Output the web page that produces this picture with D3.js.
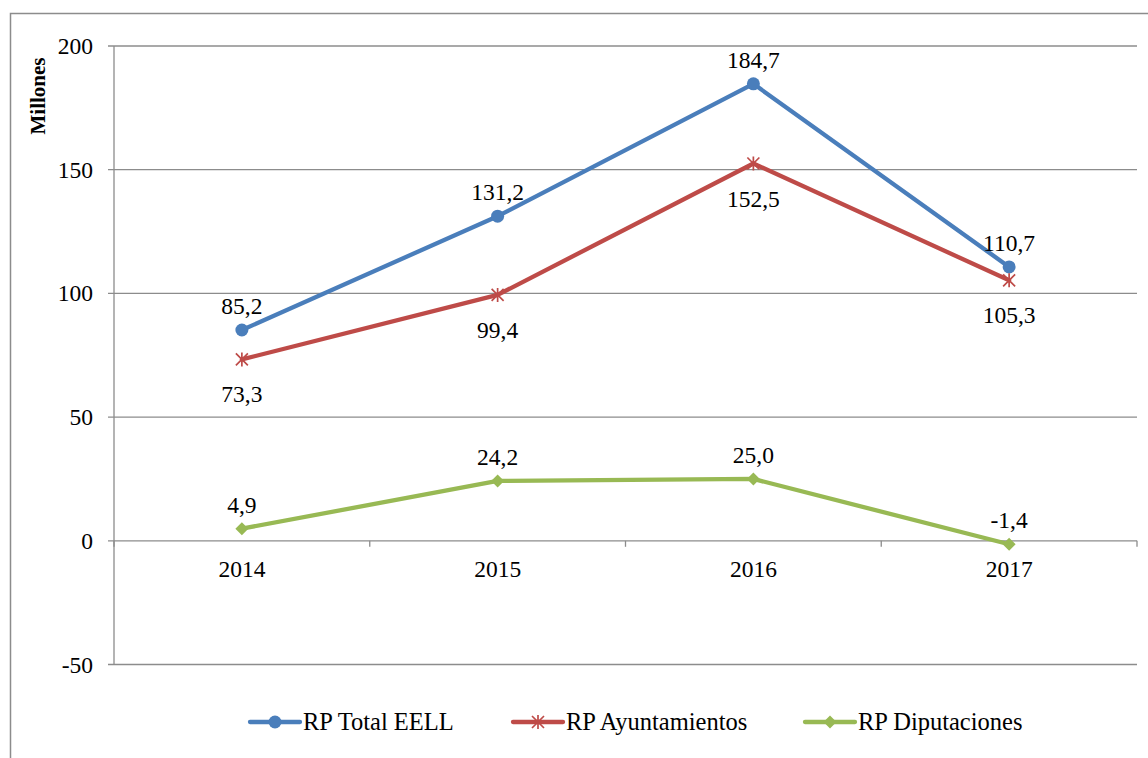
<!DOCTYPE html>
<html><head><meta charset="utf-8">
<script src="https://cdn.jsdelivr.net/npm/d3@7"></script>
<style>body{margin:0;background:#fff}svg{display:block}</style>
</head><body>
<svg id="c" width="1148" height="758"></svg>
<script>
const years = ["2014","2015","2016","2017"];
const total = [85.2,131.2,184.7,110.7];
const ayunt = [73.3,99.4,152.5,105.3];
const diput = [4.9,24.2,25.0,-1.4];
const yTicks = [-50,0,50,100,150,200];
const seriesNames = ["RP Total EELL","RP Ayuntamientos","RP Diputaciones"];

const FONT = "Liberation Serif";
const FS = 23.5;
const svg = d3.select("#c");
const M = {l:114,r:1137,t:46,b:664.5};
const x = d3.scaleBand().domain(years).range([M.l,M.r]);
const y = d3.scaleLinear().domain([-50,200]).range([M.b,M.t]);
const fmt = v => d3.format(".1f")(v).replace(".",",").replace("\u2212","-");

// outer frame
svg.append("rect").attr("x",10.5).attr("y",13.5).attr("width",1160).attr("height",800)
  .attr("fill","none").attr("stroke","#8c8c8c").attr("stroke-width",1.5);

// gridlines
svg.append("g").selectAll("line").data(yTicks).join("line")
  .attr("x1",M.l-6).attr("x2",M.r).attr("y1",d=>y(d)).attr("y2",d=>y(d))
  .attr("stroke","#8c8c8c").attr("stroke-width",1.3);
// y axis line
svg.append("line").attr("x1",M.l).attr("x2",M.l).attr("y1",M.t).attr("y2",M.b)
  .attr("stroke","#8c8c8c").attr("stroke-width",1.3);
// y labels
svg.append("g").selectAll("text").data(yTicks).join("text")
  .attr("font-family",FONT)
  .attr("x",93).attr("y",d=>y(d)+8).attr("text-anchor","end").attr("font-size",FS).text(d=>d);
// x ticks at category boundaries on 0 line
const bounds = years.map(d=>x(d)).concat([M.r]);
svg.append("g").selectAll("line").data(bounds).join("line")
  .attr("x1",d=>d).attr("x2",d=>d).attr("y1",y(0)).attr("y2",y(0)+6)
  .attr("stroke","#8c8c8c").attr("stroke-width",1.3);
svg.append("g").selectAll("text").data(years).join("text")
  .attr("font-family",FONT)
  .attr("x",d=>x(d)+x.bandwidth()/2).attr("y",y(0)+36).attr("text-anchor","middle")
  .attr("font-size",FS).text(d=>d);
// axis title
svg.append("text").attr("font-family",FONT).attr("transform",`translate(45,96) rotate(-90)`).attr("text-anchor","middle")
  .attr("font-size",21).attr("font-weight","bold").text("Millones");

const cx = d=>x(d)+x.bandwidth()/2;
const line = d3.line().x((d,i)=>cx(years[i])).y(d=>y(d));
const series = [
  {name:seriesNames[0], data:total, color:"#4A7EBB", mark:"circle", pos:[-1,-1,-1,-1]},
  {name:seriesNames[1], data:ayunt, color:"#BE4B48", mark:"star", pos:[1,1,1,1]},
  {name:seriesNames[2], data:diput, color:"#98B954", mark:"diamond", pos:[-1,-1,-1,-1]}
];
function drawMarker(g, kind, px, py, color){
  if(kind==="circle") g.append("circle").attr("cx",px).attr("cy",py).attr("r",6.5).attr("fill",color);
  else if(kind==="diamond") g.append("path").attr("d",`M${px},${py-6.5}L${px+6.5},${py}L${px},${py+6.5}L${px-6.5},${py}Z`).attr("fill",color);
  else {
    const s=6;
    g.append("path").attr("d",`M${px-s},${py-s}L${px+s},${py+s}M${px-s},${py+s}L${px+s},${py-s}M${px},${py-s-1}L${px},${py+s+1}`)
      .attr("stroke",color).attr("stroke-width",1.7).attr("fill","none");
  }
}
series.forEach(s=>{
  svg.append("path").datum(s.data).attr("d",line).attr("fill","none")
    .attr("stroke",s.color).attr("stroke-width",4.3).attr("stroke-linejoin","round").attr("stroke-linecap","round");
  const g = svg.append("g");
  s.data.forEach((v,i)=>drawMarker(g,s.mark,cx(years[i]),y(v),s.color));
  svg.append("g").selectAll("text").data(s.data).join("text")
    .attr("font-family",FONT)
    .attr("x",(d,i)=>cx(years[i])).attr("y",(d,i)=>y(d)+(s.pos[i]<0?-16:43))
    .attr("text-anchor","middle").attr("font-size",FS).text(d=>fmt(d));
});

// legend
const legX = [250,513,805];
series.forEach((s,i)=>{
  const ly = 722, lx = legX[i];
  const g = svg.append("g");
  g.append("line").attr("x1",lx).attr("x2",lx+50).attr("y1",ly).attr("y2",ly)
    .attr("stroke",s.color).attr("stroke-width",4.3).attr("stroke-linecap","round");
  drawMarker(g,s.mark,lx+25,ly,s.color);
  g.append("text").attr("font-family",FONT).attr("x",lx+53).attr("y",ly+8).attr("font-size",24.5).text(s.name);
});
</script>
</body></html>
